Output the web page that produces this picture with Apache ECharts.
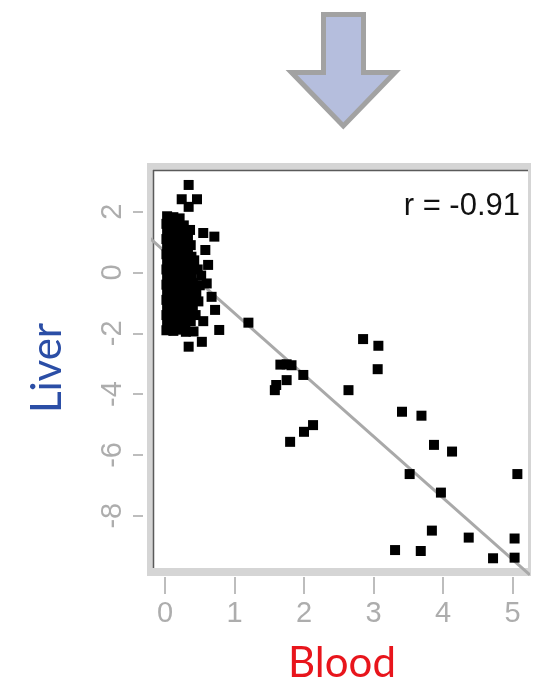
<!DOCTYPE html>
<html>
<head>
<meta charset="utf-8">
<script src="https://cdn.jsdelivr.net/npm/echarts@6/dist/echarts.min.js"></script>
<style>
html,body{margin:0;padding:0;background:#fff;}
#chart{width:534px;height:685px;}
</style>
</head>
<body>
<div id="chart"></div>
<script>
// ---- data ----
const xTickValues = [0, 1, 2, 3, 4, 5];
const yTickValues = [-8, -6, -4, -2, 0, 2];
const xAxisName = 'Blood';
const yAxisName = 'Liver';
const corrLabel = 'r = -0.91';

// dense cluster of samples near Blood = 0
const clusterPairs = [
  [0.03,1.85],[0.12,1.82],[0.21,1.78],
  [0.02,1.6],[0.1,1.58],[0.19,1.62],[0.27,1.55],
  [0.03,1.35],[0.11,1.33],[0.2,1.38],[0.29,1.3],[0.36,1.4],
  [0.02,1.1],[0.12,1.08],[0.21,1.12],[0.3,1.05],
  [0.03,0.85],[0.1,0.82],[0.2,0.88],[0.28,0.8],[0.37,0.9],
  [0.02,0.6],[0.11,0.58],[0.19,0.62],[0.29,0.55],[0.38,0.52],
  [0.03,0.35],[0.12,0.32],[0.21,0.38],[0.3,0.3],[0.42,0.4],
  [0.02,0.1],[0.1,0.08],[0.2,0.12],[0.28,0.05],[0.36,0.15],[0.47,0.1],
  [0.03,-0.15],[0.11,-0.18],[0.19,-0.12],[0.29,-0.2],[0.38,-0.1],
  [0.02,-0.4],[0.12,-0.42],[0.21,-0.38],[0.3,-0.45],[0.4,-0.35],[0.5,-0.42],
  [0.03,-0.65],[0.1,-0.68],[0.2,-0.62],[0.28,-0.7],[0.37,-0.6],[0.45,-0.7],
  [0.02,-0.9],[0.11,-0.92],[0.19,-0.88],[0.29,-0.95],[0.38,-0.85],[0.48,-0.95],
  [0.03,-1.15],[0.12,-1.18],[0.21,-1.12],[0.3,-1.2],[0.4,-1.1],
  [0.02,-1.4],[0.1,-1.42],[0.2,-1.38],[0.28,-1.45],[0.36,-1.35],[0.44,-1.4],
  [0.03,-1.65],[0.11,-1.68],[0.19,-1.62],[0.29,-1.7],[0.37,-1.6],
  [0.02,-1.9],[0.12,-1.92],[0.21,-1.88],[0.3,-1.95],
  [0.06,1.7],[0.15,1.45],[0.07,1.2],[0.16,0.95],[0.24,0.7],[0.07,0.45],[0.16,0.2],
  [0.24,-0.05],[0.07,-0.3],[0.16,-0.55],[0.24,-0.8],[0.07,-1.05],[0.16,-1.3],
  [0.24,-1.55],[0.07,-1.78],[0.33,1.18],[0.33,0.68],[0.33,-0.3],[0.33,-1.28]
];
// samples around the edge of the cluster
const edgePairs = [
  [0.34,2.88],[0.24,2.41],[0.46,2.41],[0.34,2.16],
  [0.71,1.18],[0.55,1.3],[0.58,0.74],[0.62,0.25],[0.52,-0.1],[0.6,-0.36],
  [0.67,-0.8],[0.72,-1.23],[0.55,-1.6],[0.41,-1.94],[0.53,-2.28],[0.34,-2.44],
  [0.78,-1.89]
];
// samples spread along the fitted line
const spreadPairs = [
  [1.2,-1.65],[2.85,-2.19],[3.07,-2.41],[3.06,-3.18],
  [1.66,-3.03],[1.75,-3.02],[1.82,-3.05],[1.99,-3.37],
  [1.75,-3.54],[1.6,-3.7],[1.58,-3.87],[2.64,-3.87],
  [3.41,-4.58],[3.69,-4.71],[2.13,-5.02],[2.0,-5.24],[1.8,-5.57],
  [3.87,-5.67],[4.13,-5.89],[3.52,-6.63],[5.07,-6.63],[3.97,-7.24],
  [3.84,-8.49],[4.37,-8.72],[5.03,-8.75],[3.31,-9.13],[3.68,-9.16],
  [4.72,-9.4],[5.03,-9.38]
];
// regression line end points
const fitLine = [[-0.22,1.13],[5.25,-9.95]];

// ---- chart ----
const chart = echarts.init(document.getElementById('chart'), null, {renderer:'canvas'});
const G = {left:153, top:170, right:534-528, bottom:685-568};
const option = {
  animation:false,
  backgroundColor:'#ffffff',
  grid:{left:G.left, top:G.top, right:G.right, bottom:G.bottom, containLabel:false},
  xAxis:{
    type:'value', min:-0.173, max:5.223, offset:9,
    axisLine:{show:false, onZero:false}, splitLine:{show:false},
    axisTick:{show:true, length:17, customValues:xTickValues, lineStyle:{color:'#bdbdbd', width:2}},
    axisLabel:{customValues:xTickValues, margin:22, color:'#adadad', fontSize:29,
      fontFamily:'Liberation Sans, Arial, sans-serif'}
  },
  yAxis:{
    type:'value', min:-9.72, max:3.372, offset:10,
    axisLine:{show:false, onZero:false}, splitLine:{show:false},
    axisTick:{show:true, length:10, customValues:yTickValues, lineStyle:{color:'#bdbdbd', width:2}},
    axisLabel:{customValues:yTickValues, rotate:90, margin:16, color:'#adadad', fontSize:29,
      fontFamily:'Liberation Sans, Arial, sans-serif'}
  },
  graphic:[
    {type:'rect', z:-10, shape:{x:147, y:163, width:384, height:413}, style:{fill:'#d5d5d5'}},
    {type:'rect', z:-9, shape:{x:153, y:170, width:375, height:398}, style:{fill:'#ffffff'}},
    {type:'line', z:-8, shape:{x1:153.5, y1:170, x2:153.5, y2:568}, style:{stroke:'#5a5a5a', lineWidth:1.5}},
    {type:'line', z:-8, shape:{x1:153, y1:170.5, x2:528, y2:170.5}, style:{stroke:'#5a5a5a', lineWidth:1.5}},
    {type:'polygon', z:5,
      shape:{points:[[323.5,14.5],[363.5,14.5],[363.5,72.5],[395,72.5],[343.3,126],[291.5,72.5],[323.5,72.5]]},
      style:{fill:'#b5bedd', stroke:'#a2a2a2', lineWidth:5, lineJoin:'miter'}},
    {type:'text', z:5, x:520, y:206, style:{text:corrLabel, fill:'#111', font:'31px "Liberation Sans", Arial, sans-serif',
      align:'right', verticalAlign:'middle'}},
    {type:'text', z:5, x:342, y:663, style:{text:xAxisName, fill:'#e8151c', font:'42px Lato, "Noto Sans", sans-serif',
      align:'center', verticalAlign:'middle'}},
    {type:'text', z:5, x:47, y:368, rotation:Math.PI/2, style:{text:yAxisName, fill:'#2b4ea6', font:'42px Lato, "Noto Sans", sans-serif',
      align:'center', verticalAlign:'middle'}}
  ],
  series:[
    {type:'line', data:fitLine, symbol:'none', clip:false, z:2,
      lineStyle:{color:'#a9a9a9', width:3}},
    {type:'scatter', data:clusterPairs.concat(edgePairs).concat(spreadPairs), symbol:'rect', symbolSize:10, z:3,
      itemStyle:{color:'#000000', opacity:1}}
  ]
};
chart.setOption(option);
</script>
</body>
</html>
